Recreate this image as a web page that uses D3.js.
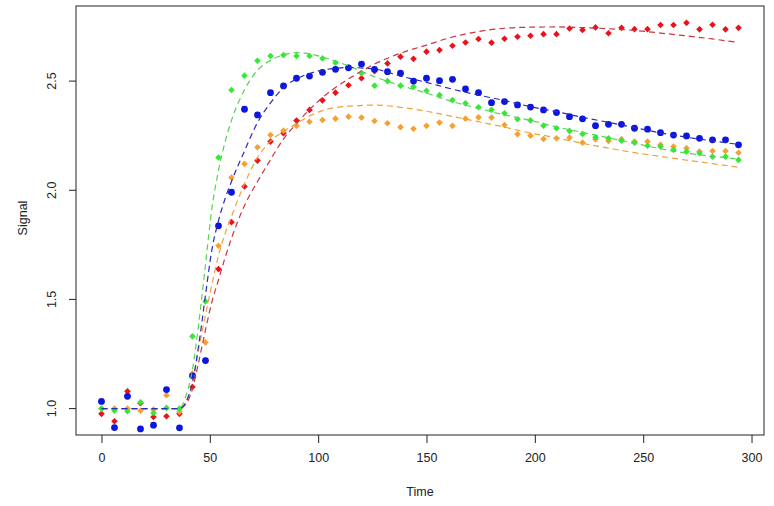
<!DOCTYPE html>
<html>
<head>
<meta charset="utf-8">
<script src="https://d3js.org/d3.v7.min.js"></script>
<style>
	body { margin: 0; background: #fff; }
	svg { display: block; font-family: "Liberation Sans", Arial, sans-serif; }
	.axis text { font-size: 12.5px; fill: #222; }
	.axis line { stroke: #222; }
</style>
</head>
<body>
<script>
// sampling times
const time = [0, 6, 12, 18, 24, 30, 36, 42, 48, 54, 60, 66, 72, 78, 84, 90, 96, 102, 108, 114,
	120, 126, 132, 138, 144, 150, 156, 162, 168, 174, 180, 186, 192, 198, 204, 210, 216, 222, 228, 234,
	240, 246, 252, 258, 264, 270, 276, 282, 288, 294]

// observed signal per series
const redObs = [0.976, 0.942, 1.079, 1.025, 0.962, 0.965, 0.976, 1.099, 1.22, 1.639, 1.854, 2.017, 2.136, 2.223, 2.261, 2.319, 2.368, 2.412, 2.447, 2.481,
	2.513, 2.546, 2.581, 2.612, 2.602, 2.635, 2.642, 2.662, 2.677, 2.693, 2.676, 2.694, 2.703, 2.708, 2.715, 2.715, 2.741, 2.734, 2.746, 2.719,
	2.744, 2.738, 2.738, 2.757, 2.757, 2.767, 2.737, 2.758, 2.737, 2.744]
const blueObs = [1.033, 0.913, 1.056, 0.907, 0.924, 1.087, 0.912, 1.15, 1.22, 1.837, 1.991, 2.371, 2.345, 2.447, 2.478, 2.513, 2.523, 2.540, 2.554, 2.561,
	2.578, 2.554, 2.543, 2.536, 2.500, 2.513, 2.502, 2.508, 2.464, 2.447, 2.401, 2.406, 2.391, 2.381, 2.368, 2.356, 2.337, 2.327, 2.296, 2.302,
	2.302, 2.284, 2.280, 2.264, 2.253, 2.249, 2.238, 2.231, 2.231, 2.208]
const greenObs = [1.0, 0.99, 0.988, 1.029, 0.98, 1.003, 1.0, 1.331, 1.491, 2.15, 2.459, 2.525, 2.593, 2.615, 2.619, 2.615, 2.615, 2.604, 2.584, 2.563,
	2.536, 2.479, 2.500, 2.479, 2.474, 2.456, 2.436, 2.413, 2.398, 2.380, 2.368, 2.353, 2.325, 2.320, 2.296, 2.284, 2.272, 2.258, 2.243, 2.238,
	2.227, 2.218, 2.204, 2.200, 2.185, 2.177, 2.170, 2.154, 2.154, 2.139]
const orangeObs = [1.0, 1.0, 1.0, 0.99, 0.995, 1.061, 0.985, 1.16, 1.303, 1.746, 2.058, 2.121, 2.197, 2.253, 2.273, 2.295, 2.314, 2.322, 2.328, 2.337,
	2.333, 2.317, 2.307, 2.289, 2.282, 2.295, 2.310, 2.295, 2.328, 2.334, 2.333, 2.299, 2.257, 2.250, 2.235, 2.238, 2.241, 2.218, 2.234, 2.226,
	2.234, 2.223, 2.223, 2.208, 2.200, 2.193, 2.177, 2.180, 2.180, 2.172]

const fitTime = [0, 36, 39, 42, 45, 48, 51, 54, 57, 60, 66, 72, 78, 84, 90, 96, 102, 114, 126, 138,
	150, 162, 174, 186, 198, 210, 222, 234, 246, 258, 270, 282, 294]
const redFit = [1.0, 1.0, 1.02, 1.09, 1.22, 1.36, 1.49, 1.59, 1.69, 1.78, 1.93, 2.04, 2.14, 2.235, 2.305, 2.37, 2.425, 2.51, 2.578, 2.628,
	2.665, 2.702, 2.727, 2.742, 2.747, 2.748, 2.745, 2.74, 2.732, 2.72, 2.707, 2.693, 2.677]
const blueFit = [1.0, 1.0, 1.03, 1.12, 1.30, 1.52, 1.73, 1.86, 1.96, 2.04, 2.18, 2.31, 2.40, 2.47, 2.51, 2.535, 2.55, 2.562, 2.555, 2.523,
	2.494, 2.463, 2.436, 2.411, 2.383, 2.36, 2.334, 2.311, 2.287, 2.263, 2.243, 2.226, 2.21]
const greenFit = [1.0, 1.0, 1.06, 1.18, 1.40, 1.66, 1.92, 2.09, 2.22, 2.32, 2.46, 2.55, 2.595, 2.62, 2.63, 2.625, 2.61, 2.57, 2.52, 2.48,
	2.445, 2.406, 2.375, 2.345, 2.32, 2.29, 2.265, 2.24, 2.215, 2.19, 2.17, 2.155, 2.143]
const orangeFit = [1.0, 1.0, 1.03, 1.12, 1.28, 1.43, 1.57, 1.70, 1.80, 1.88, 2.03, 2.15, 2.225, 2.27, 2.305, 2.34, 2.365, 2.385, 2.39, 2.38,
	2.362, 2.338, 2.314, 2.289, 2.262, 2.24, 2.215, 2.193, 2.172, 2.155, 2.138, 2.122, 2.105]

const xTicks = [0, 50, 100, 150, 200, 250, 300]
const yTicks = [1.0, 1.5, 2.0, 2.5]

const series = [
	{name: 'red', obs: redObs, fit: redFit, point: '#e8121c', line: '#cc3340', shape: 'diamond'},
	{name: 'orange', obs: orangeObs, fit: orangeFit, point: '#f5a033', line: '#f0a23a', shape: 'diamond'},
	{name: 'green', obs: greenObs, fit: greenFit, point: '#35e835', line: '#55d455', shape: 'diamond'},
	{name: 'blue', obs: blueObs, fit: blueFit, point: '#0c16dc', line: '#2a2ab8', shape: 'circle'}
]

const width = 774, height = 506
const box = {left: 76, right: 764, top: 6, bottom: 435}

const svg = d3.select('body').append('svg')
	.attr('width', width)
	.attr('height', height)

const x = d3.scaleLinear().domain([-11.76, 305.76]).range([box.left, box.right])
const y = d3.scaleLinear().domain([0.879, 2.844]).range([box.bottom, box.top])

// points and fitted lines
const line = d3.line()
	.x(d => x(d[0]))
	.y(d => y(d[1]))
	.curve(d3.curveMonotoneX)

const plot = svg.append('g')
series.forEach(s => {
	const g = plot.append('g').attr('class', s.name)
	const pts = time.map((t, i) => [t, s.obs[i]])
	if (s.shape === 'circle') {
		g.selectAll('circle').data(pts).enter().append('circle')
			.attr('cx', d => x(d[0]))
			.attr('cy', d => y(d[1]))
			.attr('r', 3.4)
			.attr('fill', s.point)
	} else {
		const sym = d3.symbol().type(d3.symbolSquare).size(22)
		g.selectAll('path').data(pts).enter().append('path')
			.attr('d', sym)
			.attr('transform', d => 'translate(' + x(d[0]) + ',' + y(d[1]) + ') rotate(45)')
			.attr('fill', s.point)
	}
})
series.forEach(s => {
	plot.append('path')
		.datum(fitTime.map((t, i) => [t, s.fit[i]]))
		.attr('d', line)
		.attr('fill', 'none')
		.attr('stroke', s.line)
		.attr('stroke-width', 1.2)
		.attr('stroke-dasharray', '6,4')
})

// frame
svg.append('rect')
	.attr('x', box.left).attr('y', box.top)
	.attr('width', box.right - box.left).attr('height', box.bottom - box.top)
	.attr('fill', 'none').attr('stroke', '#222').attr('stroke-width', 1)

// axes
const xAxis = svg.append('g')
	.attr('class', 'axis')
	.attr('transform', 'translate(0,' + box.bottom + ')')
	.call(d3.axisBottom(x).tickValues(xTicks).tickSize(8).tickPadding(10).tickFormat(d3.format('d')))
xAxis.select('.domain').remove()

const yAxis = svg.append('g')
	.attr('class', 'axis')
	.attr('transform', 'translate(' + box.left + ',0)')
	.call(d3.axisLeft(y).tickValues(yTicks).tickSize(7).tickFormat(d3.format('.1f')))
yAxis.select('.domain').remove()
yAxis.selectAll('text')
	.attr('x', 0).attr('dy', null)
	.attr('text-anchor', 'middle')
	.attr('dominant-baseline', 'central')
	.attr('transform', d => 'translate(-24,' + y(d) + ') rotate(-90)')
	.attr('y', 0)
yAxis.selectAll('.tick').attr('transform', null)
yAxis.selectAll('.tick line').attr('y1', d => y(d)).attr('y2', d => y(d))

svg.append('text')
	.attr('x', (box.left + box.right) / 2)
	.attr('y', 496)
	.attr('text-anchor', 'middle')
	.style('font-size', '12.5px')
	.style('fill', '#222')
	.text('Time')

svg.append('text')
	.attr('transform', 'translate(27,218) rotate(-90)')
	.attr('text-anchor', 'middle')
	.style('font-size', '12.5px')
	.style('fill', '#222')
	.text('Signal')
</script>
</body>
</html>
